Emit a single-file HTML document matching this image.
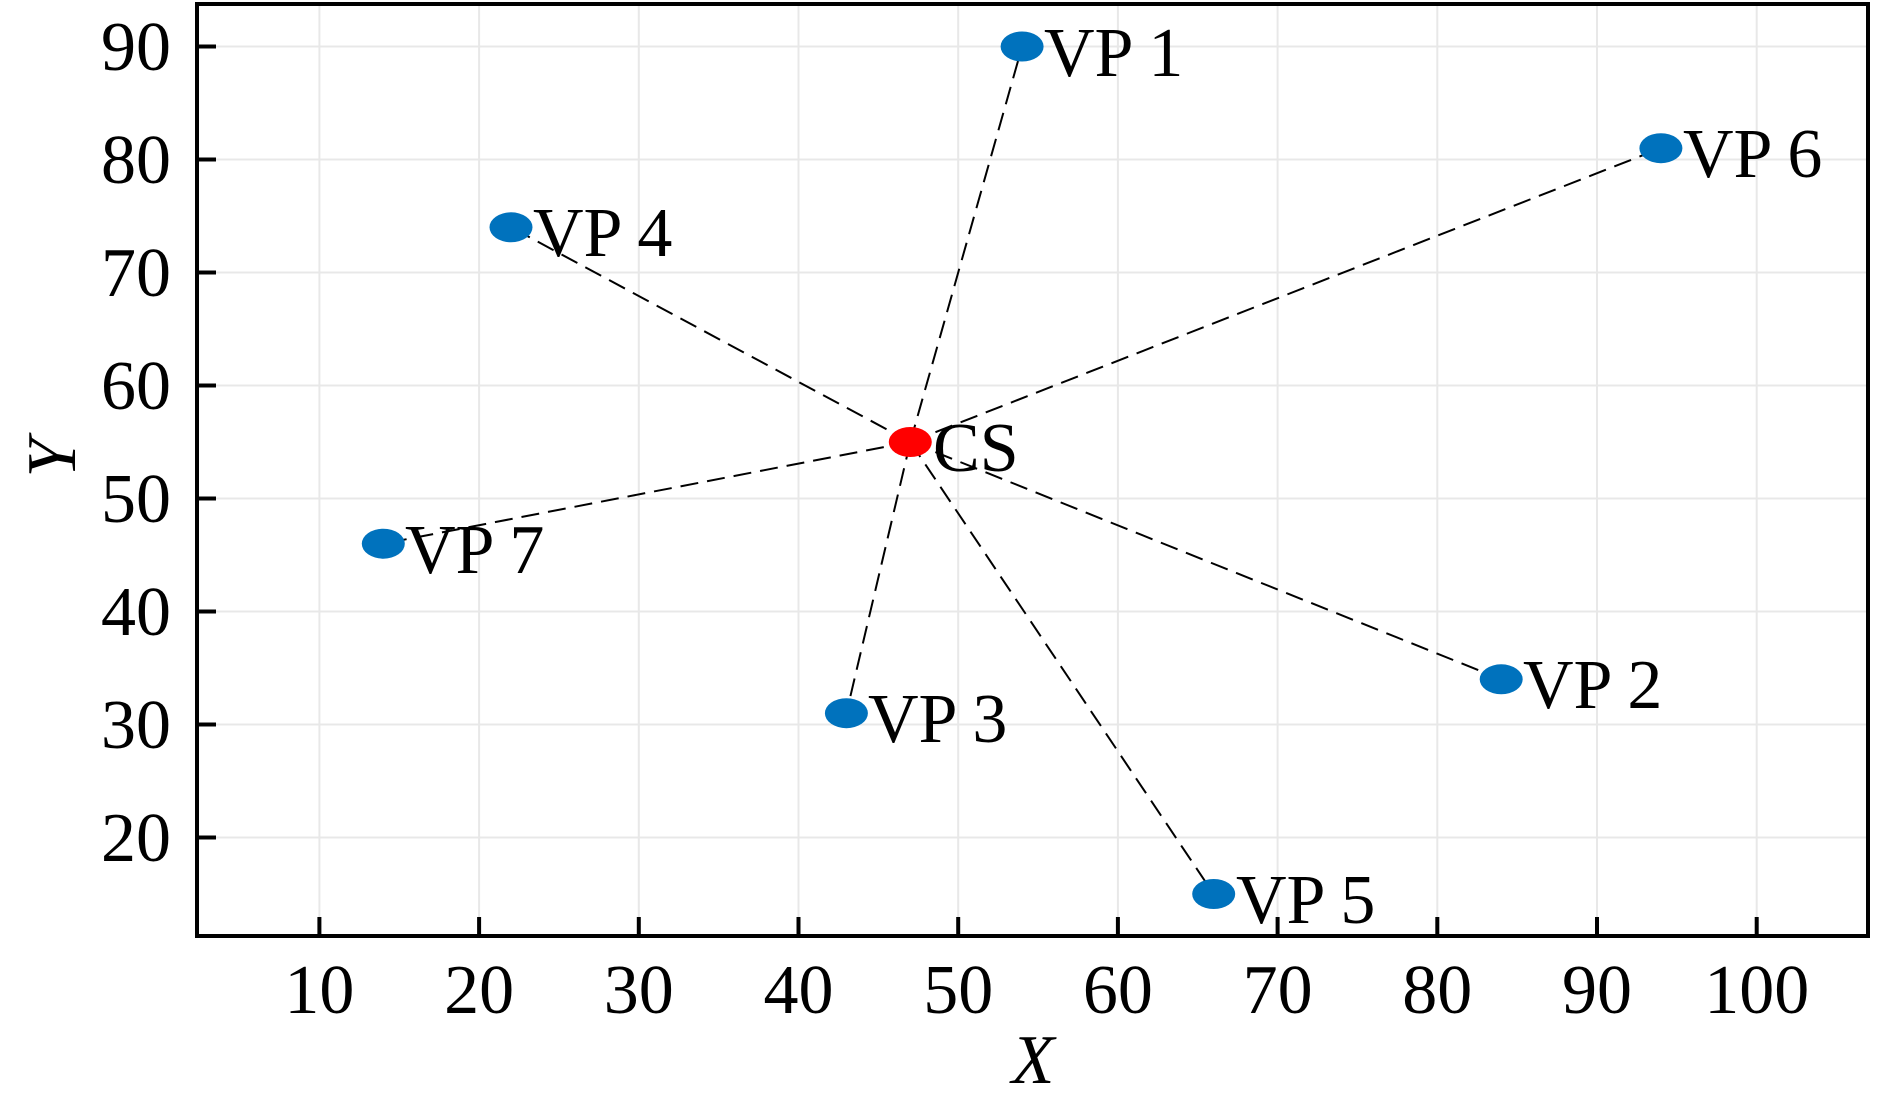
<!DOCTYPE html>
<html><head><meta charset="utf-8"><style>html,body{margin:0;padding:0;background:#fff}svg{display:block}</style></head>
<body>
<svg width="1890" height="1101" viewBox="0 0 1890 1101" xmlns="http://www.w3.org/2000/svg" font-family="'Liberation Serif', serif">
<g stroke="#e8e8e8" stroke-width="2">
<line x1="319.4" y1="4" x2="319.4" y2="936"/><line x1="479.1" y1="4" x2="479.1" y2="936"/><line x1="638.8" y1="4" x2="638.8" y2="936"/><line x1="798.5" y1="4" x2="798.5" y2="936"/><line x1="958.2" y1="4" x2="958.2" y2="936"/><line x1="1117.9" y1="4" x2="1117.9" y2="936"/><line x1="1277.6" y1="4" x2="1277.6" y2="936"/><line x1="1437.3" y1="4" x2="1437.3" y2="936"/><line x1="1597" y1="4" x2="1597" y2="936"/><line x1="1756.7" y1="4" x2="1756.7" y2="936"/>
<line x1="197" y1="46.5" x2="1868" y2="46.5"/><line x1="197" y1="159.5" x2="1868" y2="159.5"/><line x1="197" y1="272.5" x2="1868" y2="272.5"/><line x1="197" y1="385.5" x2="1868" y2="385.5"/><line x1="197" y1="498.5" x2="1868" y2="498.5"/><line x1="197" y1="611.5" x2="1868" y2="611.5"/><line x1="197" y1="724.5" x2="1868" y2="724.5"/><line x1="197" y1="837.5" x2="1868" y2="837.5"/>
</g>
<g stroke="#000" stroke-width="2" stroke-dasharray="18,9" fill="none">
<line x1="910.3" y1="442" x2="1022.1" y2="46.5"/>
<line x1="910.3" y1="442" x2="1501.2" y2="679.3"/>
<line x1="910.3" y1="442" x2="846.4" y2="713.2"/>
<line x1="910.3" y1="442" x2="511" y2="227.3"/>
<line x1="910.3" y1="442" x2="1213.7" y2="894"/>
<line x1="910.3" y1="442" x2="1660.9" y2="148.2"/>
<line x1="910.3" y1="442" x2="383.3" y2="543.7"/>
</g>
<g fill="#0072BD">
<ellipse cx="1022.1" cy="46.5" rx="21.5" ry="15"/>
<ellipse cx="1501.2" cy="679.3" rx="21.5" ry="15"/>
<ellipse cx="846.4" cy="713.2" rx="21.5" ry="15"/>
<ellipse cx="511" cy="227.3" rx="21.5" ry="15"/>
<ellipse cx="1213.7" cy="894" rx="21.5" ry="15"/>
<ellipse cx="1660.9" cy="148.2" rx="21.5" ry="15"/>
<ellipse cx="383.3" cy="543.7" rx="21.5" ry="15"/>
</g>
<ellipse cx="910.3" cy="442" rx="21.5" ry="15" fill="#ff0000"/>
<g font-size="70" fill="#000">
<text x="1044" y="76">VP 1</text>
<text x="1523" y="708">VP 2</text>
<text x="868" y="742">VP 3</text>
<text x="533" y="256">VP 4</text>
<text x="1236" y="923">VP 5</text>
<text x="1683" y="177">VP 6</text>
<text x="405" y="573">VP 7</text>
<text x="933" y="471">CS</text>
</g>
<rect x="197" y="4" width="1671" height="932" fill="none" stroke="#000" stroke-width="4"/>
<g stroke="#000" stroke-width="4">
<line x1="319.4" y1="936" x2="319.4" y2="917"/><line x1="479.1" y1="936" x2="479.1" y2="917"/><line x1="638.8" y1="936" x2="638.8" y2="917"/><line x1="798.5" y1="936" x2="798.5" y2="917"/><line x1="958.2" y1="936" x2="958.2" y2="917"/><line x1="1117.9" y1="936" x2="1117.9" y2="917"/><line x1="1277.6" y1="936" x2="1277.6" y2="917"/><line x1="1437.3" y1="936" x2="1437.3" y2="917"/><line x1="1597" y1="936" x2="1597" y2="917"/><line x1="1756.7" y1="936" x2="1756.7" y2="917"/>
<line x1="197" y1="46.5" x2="216" y2="46.5"/><line x1="197" y1="159.5" x2="216" y2="159.5"/><line x1="197" y1="272.5" x2="216" y2="272.5"/><line x1="197" y1="385.5" x2="216" y2="385.5"/><line x1="197" y1="498.5" x2="216" y2="498.5"/><line x1="197" y1="611.5" x2="216" y2="611.5"/><line x1="197" y1="724.5" x2="216" y2="724.5"/><line x1="197" y1="837.5" x2="216" y2="837.5"/>
</g>
<g font-size="70" fill="#000" text-anchor="middle">
<text x="319.4" y="1013">10</text><text x="479.1" y="1013">20</text><text x="638.8" y="1013">30</text><text x="798.5" y="1013">40</text><text x="958.2" y="1013">50</text><text x="1117.9" y="1013">60</text><text x="1277.6" y="1013">70</text><text x="1437.3" y="1013">80</text><text x="1597" y="1013">90</text><text x="1756.7" y="1013">100</text>
</g>
<g font-size="70" fill="#000" text-anchor="end">
<text x="171" y="70">90</text><text x="171" y="183">80</text><text x="171" y="296">70</text><text x="171" y="409">60</text><text x="171" y="522">50</text><text x="171" y="635">40</text><text x="171" y="748">30</text><text x="171" y="861">20</text>
</g>
<text x="1033" y="1083" font-size="70" font-style="italic" text-anchor="middle">X</text>
<text transform="translate(75,458) rotate(-90)" font-size="70" font-style="italic" text-anchor="middle">Y</text>
</svg>
</body></html>
